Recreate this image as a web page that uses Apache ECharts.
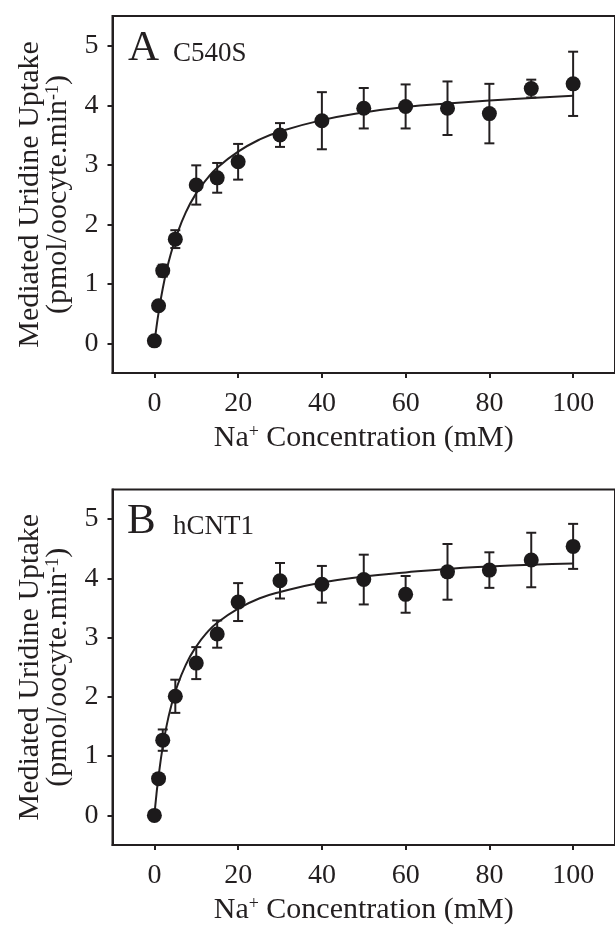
<!DOCTYPE html>
<html>
<head>
<meta charset="utf-8">
<script src="https://cdn.jsdelivr.net/npm/echarts@6/dist/echarts.min.js"></script>
<style>
html,body{margin:0;padding:0;background:#fff;}
#chart{width:615px;height:926px;}
</style>
</head>
<body>
<div id="chart"></div>
<script>
// ---- data ----
const concA = [0, 1, 2, 5, 10, 15, 20, 30, 40, 50, 60, 70, 80, 90, 100];
const uptakeA = [0.04, 0.63, 1.22, 1.75, 2.66, 2.78, 3.05, 3.50, 3.74, 3.95, 3.98, 3.95, 3.86, 4.28, 4.36];
const errA = [0.00, 0.00, 0.10, 0.15, 0.33, 0.25, 0.30, 0.20, 0.48, 0.34, 0.37, 0.45, 0.50, 0.15, 0.54];

const concB = [0, 1, 2, 5, 10, 15, 20, 30, 40, 50, 60, 70, 80, 90, 100];
const uptakeB = [0.00, 0.62, 1.27, 2.01, 2.57, 3.06, 3.60, 3.96, 3.90, 3.98, 3.73, 4.11, 4.14, 4.31, 4.54];
const errB = [0.00, 0.00, 0.18, 0.28, 0.27, 0.23, 0.32, 0.30, 0.31, 0.42, 0.31, 0.47, 0.30, 0.46, 0.38];

// fitted curves, values
const fitX = [0, 0.5, 1, 2, 3, 4, 5, 7.5, 10, 12.5, 15, 20, 25, 30, 40, 50, 60, 70, 80, 90, 100];
const fitA = [0, 0.27, 0.51, 0.92, 1.25, 1.52, 1.75, 2.20, 2.52, 2.76, 2.95, 3.22, 3.42, 3.56, 3.75, 3.88, 3.97, 4.03, 4.08, 4.12, 4.16];
const fitB = [0, 0.36, 0.66, 1.16, 1.54, 1.84, 2.09, 2.54, 2.85, 3.08, 3.25, 3.49, 3.66, 3.77, 3.93, 4.03, 4.10, 4.16, 4.20, 4.23, 4.25];

const xTicks = [0, 20, 40, 60, 80, 100];
const yTicks = [0, 1, 2, 3, 4, 5];
const panelLetters = ['A', 'B'];
const panelNames = ['C540S', 'hCNT1'];
const yTitle1 = 'Mediated Uridine Uptake';
const yTitle2 = '(pmol/oocyte.min';
const yTitleSup = '-1';
const xTitleA = 'Na';
const xTitleSup = '+';
const xTitleB = ' Concentration (mM)';

// ---- styling ----
const FONT = "'Liberation Serif', 'DejaVu Serif', serif";
const INK = '#231f20';
const grids = [
  {left: 112.5, top: 16, width: 509, height: 357},
  {left: 112.5, top: 489.5, width: 509, height: 357}
];

function xAxisFor(i) {
  return {
    type: 'value', gridIndex: i, min: -10, max: 110,
    splitLine: {show: false},
    axisLine: {show: true, onZero: false, lineStyle: {color: INK, width: 2}},
    axisTick: {show: true, customValues: xTicks, length: 5, lineStyle: {color: INK, width: 2}},
    axisLabel: {customValues: xTicks, margin: 17, color: INK, fontFamily: FONT, fontSize: 28},
    name: '{t|' + xTitleA + '}{s|' + xTitleSup + '}{t|' + xTitleB + '}',
    nameLocation: 'middle', nameGap: 50,
    nameTextStyle: {
      color: INK, fontFamily: FONT, fontSize: 30,
      rich: {
        t: {fontFamily: FONT, fontSize: 30, color: INK, lineHeight: 30},
        s: {fontFamily: FONT, fontSize: 18, color: INK, lineHeight: 18, verticalAlign: 'top'}
      }
    }
  };
}
function yAxisFor(i) {
  return {
    type: 'value', gridIndex: i, min: -0.5, max: 5.5,
    splitLine: {show: false},
    axisLine: {show: true, onZero: false, lineStyle: {color: INK, width: 2}},
    axisTick: {show: true, customValues: yTicks, length: 5, lineStyle: {color: INK, width: 2}},
    axisLabel: {customValues: yTicks, margin: 14, color: INK, fontFamily: FONT, fontSize: 28},
    name: '{t|' + yTitle1 + '}\n{t|' + yTitle2 + '}{s|' + yTitleSup + '}{t|)}',
    nameLocation: 'middle', nameRotate: 90, nameGap: 40,
    nameTextStyle: {
      color: INK, fontFamily: FONT, fontSize: 30, lineHeight: 28,
      rich: {
        t: {fontFamily: FONT, fontSize: 30, color: INK, lineHeight: 28},
        s: {fontFamily: FONT, fontSize: 18, color: INK, lineHeight: 18, verticalAlign: 'top'}
      }
    }
  };
}

function zip2(xs, ys) { return xs.map((x, k) => [x, ys[k]]); }
function zip3(xs, ys, es) { return xs.map((x, k) => [x, ys[k], es[k]]); }

function errorBarSeries(i, data) {
  return {
    type: 'custom', xAxisIndex: i, yAxisIndex: i, z: 3,
    encode: {x: 0, y: [1]},
    data: data,
    renderItem: function (params, api) {
      const x = api.value(0), y = api.value(1), e = api.value(2);
      const hi = api.coord([x, y + e]);
      const lo = api.coord([x, y - e]);
      const cw = 5;
      const st = {stroke: INK, lineWidth: 2, fill: null};
      return {
        type: 'group',
        children: [
          {type: 'line', shape: {x1: hi[0], y1: hi[1], x2: lo[0], y2: lo[1]}, style: st},
          {type: 'line', shape: {x1: hi[0] - cw, y1: hi[1], x2: hi[0] + cw, y2: hi[1]}, style: st},
          {type: 'line', shape: {x1: lo[0] - cw, y1: lo[1], x2: lo[0] + cw, y2: lo[1]}, style: st}
        ]
      };
    }
  };
}
function fitSeries(i, ys) {
  return {
    type: 'line', xAxisIndex: i, yAxisIndex: i, z: 2,
    data: zip2(fitX, ys), smooth: 0.5,
    showSymbol: false, symbol: 'none',
    lineStyle: {color: INK, width: 2}, silent: true
  };
}
function pointSeries(i, xs, ys) {
  return {
    type: 'scatter', xAxisIndex: i, yAxisIndex: i, z: 4,
    data: zip2(xs, ys), symbol: 'circle', symbolSize: 15,
    itemStyle: {color: '#1c1a1b', opacity: 1}
  };
}

const chart = echarts.init(document.getElementById('chart'), null, {renderer: 'canvas'});
chart.setOption({
  backgroundColor: '#ffffff',
  animation: false,
  grid: grids.map(g => Object.assign({show: true, borderColor: INK, borderWidth: 2, backgroundColor: 'transparent', containLabel: false}, g)),
  xAxis: [xAxisFor(0), xAxisFor(1)],
  yAxis: [yAxisFor(0), yAxisFor(1)],
  graphic: [
    {type: 'text', left: 128, top: 27, style: {text: panelLetters[0], font: "43px " + FONT, fill: INK}},
    {type: 'text', left: 173, top: 40, style: {text: panelNames[0], font: "27px " + FONT, fill: INK}},
    {type: 'text', left: 127, top: 500.5, style: {text: panelLetters[1], font: "43px " + FONT, fill: INK}},
    {type: 'text', left: 173, top: 513.5, style: {text: panelNames[1], font: "27px " + FONT, fill: INK}}
  ],
  series: [
    fitSeries(0, fitA),
    errorBarSeries(0, zip3(concA, uptakeA, errA)),
    pointSeries(0, concA, uptakeA),
    fitSeries(1, fitB),
    errorBarSeries(1, zip3(concB, uptakeB, errB)),
    pointSeries(1, concB, uptakeB)
  ]
});
</script>
</body>
</html>
